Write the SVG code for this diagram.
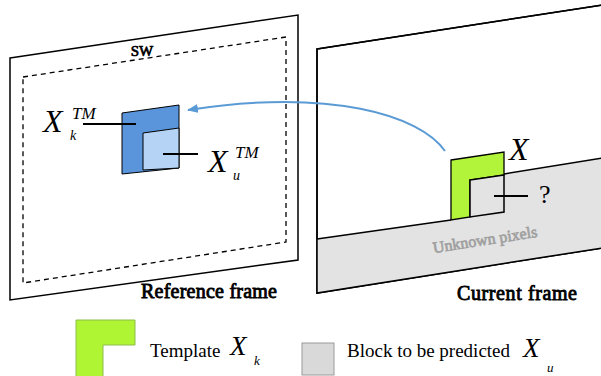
<svg xmlns="http://www.w3.org/2000/svg" width="601" height="376" viewBox="0 0 601 376">
<defs>
<style>
.frame{fill:#fff;stroke:#000;stroke-width:1.5}
.dash{fill:none;stroke:#000;stroke-width:1.3;stroke-dasharray:5,4}
.blk{stroke:#000;stroke-width:1}
.lead{stroke:#000;stroke-width:2;fill:none}
.lbl{font-family:"Liberation Serif","Times New Roman",serif;font-size:20px;fill:#000;stroke:#000;stroke-width:0.85}
.math{font-family:"Liberation Serif","Times New Roman",serif;font-style:italic;fill:#000}
.txt{font-family:"Liberation Serif","Times New Roman",serif;font-size:19px;fill:#000}
</style>
<marker id="ah" markerUnits="userSpaceOnUse" markerWidth="11" markerHeight="9" viewBox="0 0 11 9" refX="10" refY="4.5" orient="auto">
<path d="M0,0 L11,4.5 L0,9 z" fill="#5B9BD5"/>
</marker>
</defs>

<g id="reference-frame">
<polygon class="frame" points="10,58 298,15 298,260 10,300"/>
<polygon class="dash" points="23,77 286,37 286,242 23,283"/>
<text class="lbl" x="142" y="56" text-anchor="middle" style="font-size:15px;stroke-width:0.7">SW</text>
<text class="lbl" x="141" y="298" textLength="136" lengthAdjust="spacing">Reference frame</text>
</g>

<g id="template-match">
<polygon class="blk" fill="#5A95DC" points="122,113 179,105 179,168 122,174"/>
<polygon class="blk" fill="#B5D3F5" points="143,133 179,128 179,168 143,170"/>
<line class="lead" x1="83" y1="124" x2="136" y2="124"/>
<line class="lead" x1="163" y1="154" x2="198" y2="154"/>
<text class="math" x="43" y="132" font-size="32">X</text>
<text class="math" x="72" y="119" font-size="17">TM</text>
<text class="math" x="70" y="140" font-size="14">k</text>
<text class="math" x="208" y="172" font-size="32">X</text>
<text class="math" x="235" y="158" font-size="17">TM</text>
<text class="math" x="233" y="180" font-size="14">u</text>
</g>

<g id="current-frame">
<polygon class="frame" points="317,49 602,5 602,248 317,293"/>
<polygon fill="#E3E3E3" stroke="none" points="317,239 451,220 504,174 602,158 602,248 317,293"/>
<polyline fill="none" stroke="#000" stroke-width="1.5" points="317,239 451,220"/>
<polyline fill="none" stroke="#000" stroke-width="1.5" points="504,174 602,158"/>
<polygon class="frame" style="fill:none" points="317,49 602,5 602,248 317,293"/>
<text class="lbl" x="457" y="300" textLength="120" lengthAdjust="spacing">Current frame</text>
<text class="lbl" x="485" y="245" text-anchor="middle" transform="rotate(-9 485 240)" style="font-size:16px;fill:#A0A0A0;stroke:#A0A0A0;stroke-width:0.7">Unknown pixels</text>
</g>

<g id="current-block">
<polygon fill="#B2F43A" stroke="#000" stroke-width="1.3" points="451,160 504,152 504,175 470,180 470,217 451,220"/>
<polygon fill="#E3E3E3" stroke="#000" stroke-width="1.5" points="470,180 504,175 504,212 470,217"/>
<line class="lead" x1="494" y1="196" x2="528" y2="196"/>
<text class="math" x="509" y="160" font-size="32">X</text>
<text x="539" y="203" font-family="Liberation Serif, Times New Roman, serif" font-size="26" fill="#000">?</text>
</g>

<g id="connectors">
<path d="M445,151 C420,115 330,88 188,110" fill="none" stroke="#5B9BD5" stroke-width="2" marker-end="url(#ah)"/>
</g>

<g id="legend-template">
<polygon fill="#AFF534" stroke="#8DBE4A" stroke-width="1" points="76,320 135,320 135,345 103,345 103,377 76,377"/>
<text class="txt" x="150" y="357">Template</text>
<text class="math" x="230" y="355" font-size="27">X</text>
<text class="math" x="254" y="365" font-size="13">k</text>
</g>

<g id="legend-block">
<rect x="302" y="343" width="32" height="32" fill="#D9D9D9" stroke="#9A9A9A" stroke-width="1"/>
<text class="txt" x="347" y="357">Block to be predicted</text>
<text class="math" x="523" y="357" font-size="27">X</text>
<text class="math" x="547" y="372" font-size="13">u</text>
</g>
</svg>
